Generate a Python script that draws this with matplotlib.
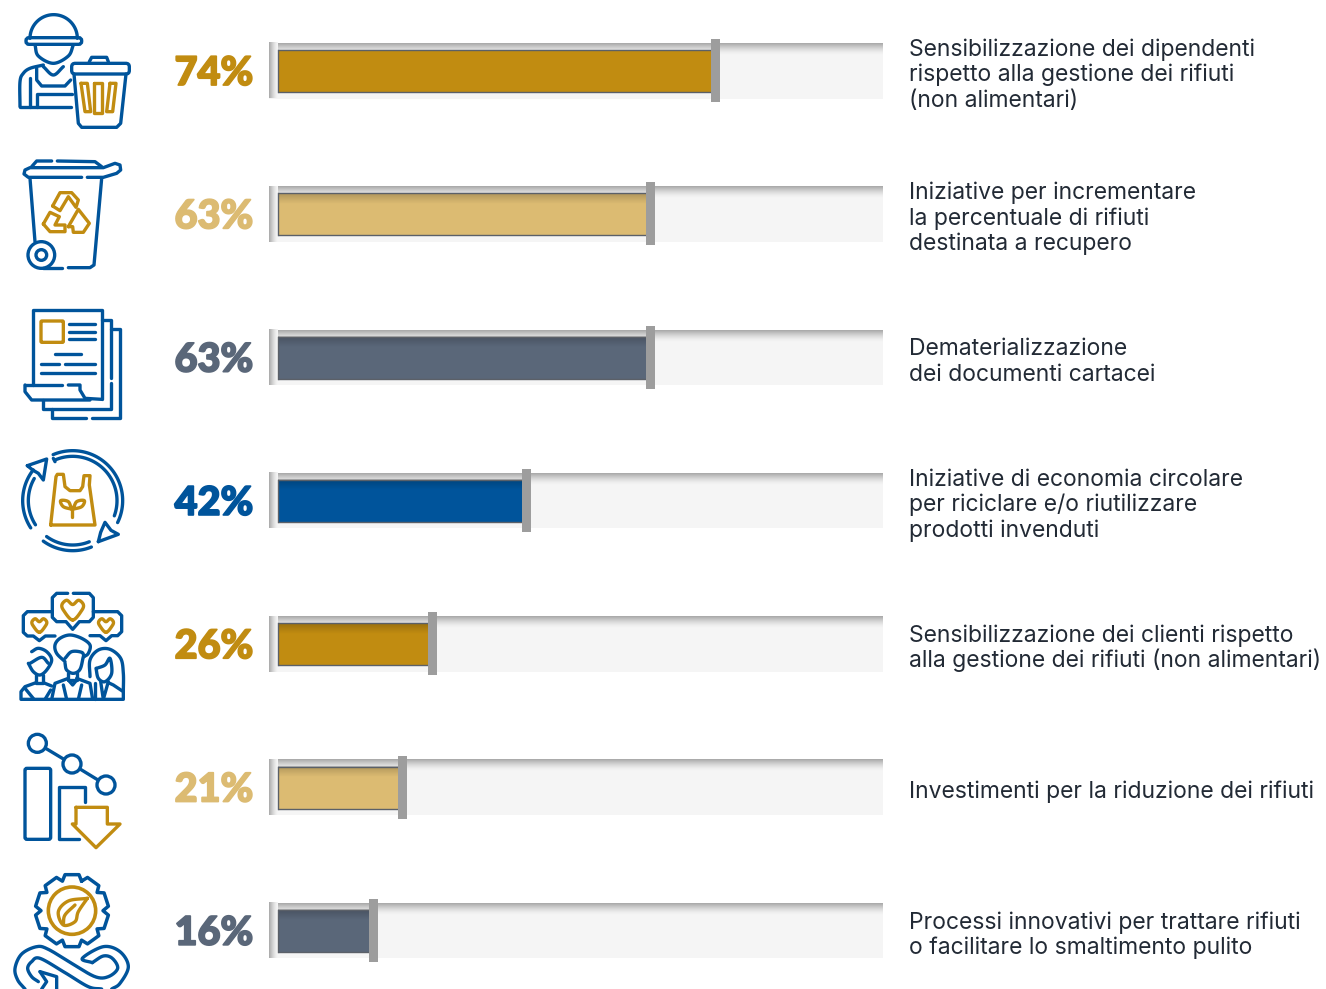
import numpy as np
import matplotlib
matplotlib.use("Agg")
import matplotlib.pyplot as plt
import matplotlib.patheffects as pe
from matplotlib.patches import Circle, FancyBboxPatch, Rectangle
from matplotlib.colors import to_rgb

# Survey results, top to bottom
values = [74, 63, 63, 42, 26, 21, 16]
value_labels = ["74%", "63%", "63%", "42%", "26%", "21%", "16%"]
descriptions = [
    ["Sensibilizzazione dei dipendenti", "rispetto alla gestione dei rifiuti", "(non alimentari)"],
    ["Iniziative per incrementare", "la percentuale di rifiuti", "destinata a recupero"],
    ["Dematerializzazione", "dei documenti cartacei"],
    ["Iniziative di economia circolare", "per riciclare e/o riutilizzare", "prodotti invenduti"],
    ["Sensibilizzazione dei clienti rispetto", "alla gestione dei rifiuti (non alimentari)"],
    ["Investimenti per la riduzione dei rifiuti"],
    ["Processi innovativi per trattare rifiuti", "o facilitare lo smaltimento pulito"],
]

GOLD = "#c18c11"
TAN = "#dcbb72"
SLATE = "#5a6779"
BLUE = "#00549b"
bar_colors = [GOLD, TAN, SLATE, BLUE, GOLD, TAN, SLATE]

W, H = 1326, 989
PCT_PX = 5.897         # pixels per percentage point
ZERO_PX = 274.6        # pixel position of 0 %
ROW_PX = 143.3         # distance between rows
FIRST_ROW_PX = 70.5

plt.rcParams["font.family"] = ["Inter", "DejaVu Sans"]
fig = plt.figure(figsize=(W / 100, H / 100), dpi=100, facecolor="white")

# Data axes: x in percent, y in row index
ax = fig.add_axes([0, 0, 1, 1])
ax.axis("off")


def px_x(p):
    return (p - ZERO_PX) / PCT_PX


def px_y(p):
    return (p - FIRST_ROW_PX) / ROW_PX


xlim = (px_x(0), px_x(W))
ylim = (px_y(H), px_y(0))
TRACK_L, TRACK_R = px_x(269), px_x(883)
INSET = px_x(278)
TRACK = np.array(to_rgb("#f5f5f5"))
SHADE = np.array(to_rgb("#a8a8a8"))
EDGE = "#5b6068"


def ramp(n=32):
    t = np.linspace(0, 1, n)[:, None]
    k = (1 - t) ** 1.5
    return SHADE * k + TRACK * (1 - k)


for i, (v, col) in enumerate(zip(values, bar_colors)):
    top, bot = i - 27.5 / ROW_PX, i + 28 / ROW_PX
    bar_top, bar_bot = i - 20.5 / ROW_PX, i + 21.5 / ROW_PX
    ax.add_patch(Rectangle((TRACK_L, top), TRACK_R - TRACK_L, bot - top, fc="#f5f5f5", ec="none", zorder=1))
    # top inner shadow of the track
    ax.imshow(np.repeat(ramp()[:, None, :], 2, axis=1), extent=(TRACK_L, TRACK_R, i - 15.5 / ROW_PX, top),
              aspect="auto", interpolation="bilinear", zorder=2)
    ax.barh((bar_top + bar_bot) / 2, v, height=bar_bot - bar_top, left=0, color=col, edgecolor="none",
            zorder=3, align="center")
    # soft inner shade of the filled part
    if i != 0:
        alpha = np.linspace(0.2, 0, 24)[:, None]
        shade = np.dstack([np.zeros((24, 2, 3)), np.repeat(alpha, 2, axis=1)[:, :, None]])
        ax.imshow(shade, extent=(INSET, v, i - 10 / ROW_PX, bar_top), aspect="auto",
                  interpolation="bilinear", zorder=3.2)
    ax.plot([INSET, v], [bar_top, bar_top], color=EDGE, lw=1.0, zorder=3.5, solid_capstyle="butt")
    ax.plot([INSET, v], [bar_bot, bar_bot], color=EDGE, lw=1.0, zorder=3.5, solid_capstyle="butt")
    # left inner shadow, covering the start of the bar
    left = ramp()[:, None, :].transpose(1, 0, 2)
    ax.imshow(np.repeat(left, 2, axis=0), extent=(TRACK_L, INSET, bot, top),
              aspect="auto", interpolation="bilinear", zorder=4)
    ax.plot([INSET, INSET], [bar_top, bar_bot], color=EDGE, lw=1.0, zorder=4.5)
    # grey end marker
    ax.barh(i, 9 / PCT_PX, height=63 / ROW_PX, left=v, color="#9d9d9d", edgecolor="none", zorder=5)
    ax.text(px_x(214), i + 14.5 / ROW_PX, value_labels[i], color=col, fontsize=28.5, fontweight="black",
            family=["Lato", "DejaVu Sans"], ha="center", va="baseline", zorder=6,
            path_effects=[pe.withStroke(linewidth=1.3, foreground=col)])
    n = len(descriptions[i])
    for k, line_text in enumerate(descriptions[i]):
        ax.text(px_x(909.5), i + (11 + (k - (n - 1) / 2) * 25.5) / ROW_PX, line_text, color="#222a35",
                fontsize=16.5, ha="left", va="baseline", zorder=6)

ax.set_xlim(*xlim)
ax.set_ylim(*ylim)

# Pictogram layer in pixel coordinates
ic = fig.add_axes([0, 0, 1, 1], facecolor="none")
ic.axis("off")
ic.set_xlim(0, W)
ic.set_ylim(H, 0)
LW = 2.4


def smooth(pts, closed=False, n=14):
    p = np.asarray(pts, float)
    if closed:
        p = np.vstack([p[-1], p, p[0], p[1]])
    else:
        p = np.vstack([2 * p[0] - p[1], p, 2 * p[-1] - p[-2]])
    out = []
    for j in range(1, len(p) - 2):
        for t in np.linspace(0, 1, n, endpoint=False):
            a, b, c, d = p[j - 1], p[j], p[j + 1], p[j + 2]
            out.append(0.5 * (2 * b + (c - a) * t + (2 * a - 5 * b + 4 * c - d) * t ** 2
                              + (3 * b - a - 3 * c + d) * t ** 3))
    out.append(p[-2])
    return np.array(out)


def line(pts, color=BLUE, off=0, lw=LW, curve=False, closed=False):
    """Polyline given in 3x coordinates with a vertical pixel offset."""
    p = np.asarray(pts, float) / 3
    if curve:
        p = smooth(p, closed)
    elif closed:
        p = np.vstack([p, p[0]])
    ic.plot(p[:, 0], p[:, 1] + off, color=color, lw=lw, solid_capstyle="round",
            solid_joinstyle="round", zorder=10)


def rbox(x0, y0, x1, y1, off=0, r=3, color=BLUE, lw=LW):
    x0, y0, x1, y1 = x0 / 3, y0 / 3 + off, x1 / 3, y1 / 3 + off
    ic.add_patch(FancyBboxPatch((x0 + r, y0 + r), x1 - x0 - 2 * r, y1 - y0 - 2 * r,
                                boxstyle=f"round,pad={r}", fc="none", ec=color, lw=lw, zorder=10))


def circ(x, y, r, off=0, color=BLUE, lw=LW):
    ic.add_patch(Circle((x / 3, y / 3 + off), r / 3, fc="none", ec=color, lw=lw, zorder=10))


def arc(cx, cy, r, a0, a1, off=0, color=BLUE, lw=LW):
    a = np.radians(np.linspace(a0, a1, 60))
    ic.plot(cx / 3 + r / 3 * np.cos(a), cy / 3 + off - r / 3 * np.sin(a), color=color, lw=lw,
            solid_capstyle="round", zorder=10)


def heart(cx, cy, s, off=0, color=GOLD):
    pts = [(0, 1), (-0.85, 0.1), (-1, -0.45), (-0.55, -0.85), (0, -0.45),
           (0.55, -0.85), (1, -0.45), (0.85, 0.1)]
    line([(cx + s * a, cy + s * b) for a, b in pts], color=color, off=off, curve=True, closed=True)


def shifted(pts, dx, dy):
    return [(x + dx, y + dy) for x, y in pts]


# Worker with bin
arc(161, 115, 71, 0, 180)
rbox(78, 113, 245, 133, r=3)
line([(105, 135), (115, 168), (160, 190), (205, 168), (220, 135)], curve=True)
line([(60, 320), (60, 245), (70, 220), (90, 205), (130, 195)], curve=True)
line([(60, 320), (212, 320)])
line([(90, 320), (90, 235)])
line([(110, 205), (110, 240), (125, 258), (195, 258), (212, 240)])
line([(130, 200), (160, 225), (190, 200)], curve=True)
line([(110, 320), (110, 283), (215, 283)])
rbox(215, 190, 388, 222, r=3.5)
line([(268, 185), (275, 172), (320, 172), (325, 185)])
line([(222, 222), (235, 370), (245, 382), (350, 382), (362, 370), (378, 222)])
line([(243, 250), (262, 250), (272, 335), (255, 335)], color=GOLD, closed=True)
line([(283, 248), (305, 248), (305, 338), (283, 338)], color=GOLD, closed=True)
line([(330, 250), (348, 250), (338, 335), (320, 335)], color=GOLD, closed=True)

# Wheelie bin with recycling sign
line([(245, 532), (85, 532), (72, 522), (75, 510), (90, 503), (310, 503), (345, 490), (360, 495),
      (362, 510), (350, 520), (310, 532), (262, 532)])
line([(95, 500), (110, 483), (155, 483)])
line([(172, 483), (285, 485), (305, 500)])
line([(90, 535), (105, 725)])
line([(305, 535), (282, 795), (270, 803), (205, 803)])
line([(185, 803), (130, 803)])
circ(124, 765, 40)
circ(124, 765, 16)
line([(158, 618), (180, 578), (215, 578), (235, 600), (228, 622), (205, 590), (180, 632)], color=GOLD, closed=True)
line([(130, 672), (150, 637), (178, 650), (165, 675), (195, 675), (195, 695), (150, 695)], color=GOLD, closed=True)
line([(205, 680), (235, 628), (268, 670), (250, 697), (220, 697), (218, 680)], color=GOLD, closed=True)

# Stack of documents
o = 290
line([(100, 285), (100, 60), (305, 60), (305, 328)], off=o)
line([(75, 285), (185, 285)], off=o)
line([(205, 285), (240, 285), (240, 300), (255, 325), (305, 328)], off=o)
line([(75, 285), (75, 305), (95, 330), (270, 330)], off=o)
line([(305, 90), (332, 90), (332, 265)], off=o)
line([(332, 280), (332, 358), (130, 358), (130, 330)], off=o)
line([(332, 118), (360, 118), (360, 385), (275, 385)], off=o)
line([(258, 385), (157, 385), (157, 358)], off=o)
rbox(123, 93, 190, 157, off=o, r=1, color=GOLD)
for a, b, y in [(208, 285, 102), (208, 285, 125), (208, 285, 148), (165, 242, 192),
                (123, 177, 221), (195, 285, 221), (123, 285, 250)]:
    line([(a, y), (b, y)], off=o)

# Circular economy with bag
arc(218, 632, 150, 113, -26, off=o)
arc(218, 632, 133, 113, -20, off=o)
line([(160, 505), (165, 515)], off=o)
arc(218, 632, 150, 234, 292, off=o)
arc(218, 632, 133, 234, 292, off=o)
arc(218, 632, 150, 213, 142, off=o)
arc(218, 632, 133, 213, 150, off=o)
line(shifted([(52, 62), (110, 42), (100, 105), (85, 85), (68, 75)], 30, 465), off=o, closed=True)
line(shifted([(265, 290), (325, 268), (303, 256), (285, 232), (272, 262)], 30, 465), off=o, closed=True)
line([(152, 705), (168, 560), (172, 553), (190, 553), (195, 590), (210, 602), (240, 602), (248, 590),
      (252, 557), (270, 557), (268, 585), (285, 705)], color=GOLD, off=o, closed=True)
line([(217, 682), (217, 650)], color=GOLD, off=o)
line([(217, 658), (190, 650), (182, 632), (205, 635), (217, 658), (230, 635), (253, 632), (245, 650), (217, 658)],
     color=GOLD, off=o, curve=True)

# Customers with speech bubbles
o = 570
line([(203, 70), (170, 70), (157, 83), (157, 142), (170, 155), (198, 155), (218, 178), (238, 155),
      (268, 155), (280, 142), (280, 83), (268, 70), (220, 70)], off=o)
line([(157, 125), (82, 125), (70, 137), (70, 187), (82, 198), (100, 198), (118, 212), (136, 198), (165, 198)], off=o)
line([(280, 125), (353, 125), (365, 137), (365, 185), (353, 197), (335, 197), (318, 212), (300, 197), (270, 197)], off=o)
heart(218, 118, 32, off=o)
heart(118, 165, 22, off=o)
heart(318, 165, 22, off=o)

people = [
    # left person
    ([(55, 70), (70, 95), (90, 105), (110, 90), (125, 60), (110, 35), (85, 25), (65, 35)], True),
    ([(60, 70), (95, 52), (115, 70)], True),
    ([(78, 105), (78, 128), (100, 128), (100, 105)], False),
    ([(78, 128), (45, 140), (33, 155), (33, 178), (340, 178), (340, 155), (310, 135), (295, 128)], False),
    ([(45, 145), (72, 178)], False),
    ([(100, 128), (125, 138)], False),
    ([(122, 150), (105, 178)], False),
    # centre person
    ([(165, 65), (140, 40), (135, 15), (150, -5), (180, -15), (215, -5), (240, 15), (235, 40), (222, 50)], True),
    ([(165, 55), (185, 35), (215, 37), (222, 50)], True),
    ([(165, 70), (170, 90), (190, 100), (210, 88), (220, 50)], True),
    ([(175, 100), (175, 120), (200, 120), (200, 100)], False),
    ([(175, 115), (135, 130), (125, 178)], False),
    ([(200, 115), (240, 130), (248, 178)], False),
    ([(175, 120), (188, 135), (200, 120)], False),
    ([(160, 135), (170, 178)], False),
    ([(215, 135), (205, 178)], False),
    # right person
    ([(240, 110), (240, 60), (265, 30), (300, 28), (332, 55), (340, 100), (340, 155)], True),
    ([(258, 85), (265, 115), (285, 125), (305, 100), (300, 55), (285, 75), (260, 85)], True),
    ([(272, 125), (280, 178), (295, 125)], False),
    ([(255, 130), (255, 178)], False),
]
for pts, curved in people:
    line(shifted(pts, 30, 210), off=o, curve=curved)

# Falling trend chart
circ(112, 520, 27, off=o)
circ(216, 582, 27, off=o)
circ(318, 645, 27, off=o)
line([(137, 535), (192, 568)], off=o)
line([(240, 597), (294, 630)], off=o)
rbox(75, 595, 152, 808, off=o, r=2)
line([(255, 695), (255, 650), (177, 650), (177, 808), (238, 808)], off=o)
line([(228, 712), (322, 712), (322, 762), (360, 762), (288, 833), (217, 762), (228, 762)], color=GOLD, off=o, closed=True)

# Gear with leaf and infinity loop
n_teeth = 10
gear = []
for t in range(n_teeth):
    c = 90 + t * 360 / n_teeth
    for da, rad in [(-18, 93), (-11, 110), (11, 110), (18, 93)]:
        gear.append((216 + rad * np.cos(np.radians(c + da)), 1022 - rad * np.sin(np.radians(c + da))))
line(gear, off=o, closed=True, lw=2.5)
circ(216, 1022, 71, off=o, color=GOLD, lw=2.6)
line([(262, 985), (205, 993), (175, 1025), (190, 1065), (225, 1055), (235, 1025), (262, 985)], color=GOLD, off=o, curve=True)
line([(190, 1062), (195, 1035), (225, 1005)], color=GOLD, off=o, curve=True)

infinity = [
    [(60, 177), (38, 150), (30, 115), (50, 72), (95, 50), (130, 58), (200, 100), (270, 140), (310, 140),
     (338, 115), (322, 85), (295, 78), (262, 98)],
    [(262, 98), (232, 85), (295, 50), (345, 65), (370, 110), (345, 160), (320, 177)],
    [(290, 177), (250, 170), (180, 128), (105, 85), (80, 95), (68, 115), (80, 140), (100, 155)],
]
for pts in infinity:
    line(shifted(pts, 15, 1080), off=o, curve=True)
line(shifted([(105, 125), (155, 140), (155, 177)], 15, 1080), off=o)
line(shifted([(105, 125), (125, 155), (110, 177)], 15, 1080), off=o)

fig.savefig("out.png", dpi=100)
